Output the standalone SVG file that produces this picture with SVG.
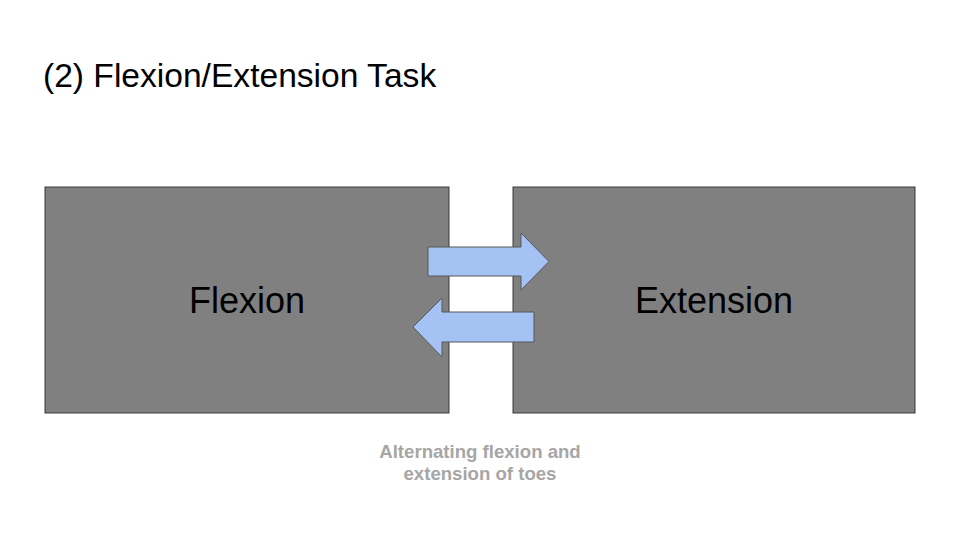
<svg xmlns="http://www.w3.org/2000/svg" width="960" height="540" viewBox="0 0 960 540">
<style>
.box{fill:#808080;stroke:#3a3a3a;stroke-width:1}
.lbl{font-family:"Liberation Sans",Arial,sans-serif;font-size:36px;fill:#000;text-anchor:middle}
.arrow{fill:#a4c2f4;stroke:#595959;stroke-width:1}
.cap{font-family:"Liberation Sans",Arial,sans-serif;font-size:18.6px;font-weight:bold;fill:#a6a6a6;text-anchor:middle}
</style>
<rect width="960" height="540" fill="#fff"/>
<text x="43" y="87" font-family="'Liberation Sans',Arial,sans-serif" font-size="33.6" fill="#000">(2) Flexion/Extension Task</text>
<g id="flexion">
<rect class="box" x="45" y="187" width="404" height="226"/>
<text class="lbl" x="247" y="313">Flexion</text>
</g>
<g id="extension">
<rect class="box" x="513" y="187" width="402" height="226"/>
<text class="lbl" x="714" y="313">Extension</text>
</g>
<g id="connectors">
<polygon class="arrow" points="428,247 521,247 521,233 549,261.5 521,290 521,276 428,276"/>
<polygon class="arrow" points="534,312 442,312 442,298 413,327 442,357 442,342 534,342"/>
</g>
<g id="caption">
<text class="cap" x="480" y="458">Alternating flexion and</text>
<text class="cap" x="480" y="480">extension of toes</text>
</g>
</svg>
